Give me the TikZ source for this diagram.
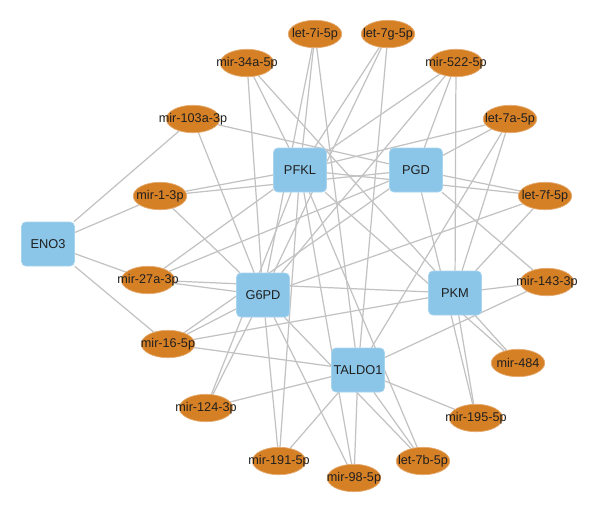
\documentclass[tikz,border=0pt]{standalone}
\usepackage{fontspec}
\setmainfont{Liberation Sans}
\usepackage{tikz}
\usetikzlibrary{shapes.geometric, backgrounds}

\definecolor{genebox}{RGB}{139,198,233}
\definecolor{mirfill}{RGB}{214,128,38}
\definecolor{edgegray}{RGB}{194,194,194}

\newcommand{\lbl}[1]{\makebox[0pt]{#1}}

\begin{document}
\begin{tikzpicture}[x=0.02cm,y=-0.02cm,
    gene/.style={rectangle,rounded corners=2.5pt,fill=genebox,draw=genebox!75!white,minimum width=1.06cm,minimum height=0.88cm,inner sep=0pt,font=\fontsize{7.3}{9}\selectfont,text=black!88},
    mirna/.style={ellipse,fill=mirfill,draw=mirfill!65!white,line width=0.4pt,minimum width=1.07cm,minimum height=0.55cm,inner sep=0pt,font=\fontsize{7.2}{8}\selectfont,text=black!88},
    every edge/.style={draw=edgegray,line width=0.7pt}]
    \useasboundingbox (0,0) rectangle (600,515);

    % genes
    \node[gene] (eno3) at (48,244) {ENO3};
    \node[gene] (pfkl) at (300,170) {PFKL};
    \node[gene] (pgd) at (416,170) {PGD};
    \node[gene] (g6pd) at (263,295) {G6PD};
    \node[gene] (pkm) at (455,293) {PKM};
    \node[gene] (taldo1) at (358,370) {TALDO1};

    % mirnas
    \node[mirna] (let7i) at (315,34) {\lbl{let-7i-5p}};
    \node[mirna] (let7g) at (388,34) {\lbl{let-7g-5p}};
    \node[mirna] (mir34a) at (247,63) {\lbl{mir-34a-5p}};
    \node[mirna] (mir522) at (456,63) {\lbl{mir-522-5p}};
    \node[mirna] (mir103a) at (193,119) {\lbl{mir-103a-3p}};
    \node[mirna] (let7a) at (510,119) {\lbl{let-7a-5p}};
    \node[mirna] (mir1) at (160,196) {\lbl{mir-1-3p}};
    \node[mirna] (let7f) at (545,196) {\lbl{let-7f-5p}};
    \node[mirna] (mir27a) at (148,280) {\lbl{mir-27a-3p}};
    \node[mirna] (mir143) at (547,282) {\lbl{mir-143-3p}};
    \node[mirna] (mir16) at (168,344) {\lbl{mir-16-5p}};
    \node[mirna] (mir484) at (518,363) {\lbl{mir-484}};
    \node[mirna] (mir124) at (206,408) {\lbl{mir-124-3p}};
    \node[mirna] (mir195) at (476,418) {\lbl{mir-195-5p}};
    \node[mirna] (mir191) at (279,461) {\lbl{mir-191-5p}};
    \node[mirna] (let7b) at (423,461) {\lbl{let-7b-5p}};
    \node[mirna] (mir98) at (354,478) {\lbl{mir-98-5p}};

    \begin{scope}[on background layer]
    \path (eno3) edge (mir103a) edge (mir1) edge (mir27a) edge (mir16)
          (mir103a) edge (g6pd) edge (pgd)
          (mir34a) edge (g6pd) edge (pfkl) edge (pkm)
          (let7i) edge (pfkl) edge (g6pd) edge (taldo1)
          (let7g) edge (pfkl) edge (g6pd) edge (taldo1)
          (mir522) edge (pfkl) edge (g6pd) edge (pgd) edge (pkm)
          (let7a) edge (pfkl) edge (pgd) edge (pkm) edge (taldo1)
          (let7f) edge (pgd) edge (pkm) edge (g6pd) edge (pfkl)
          (mir1) edge (pfkl) edge (g6pd) edge (pgd)
          (mir27a) edge (g6pd) edge (pfkl) edge (pgd) edge (pkm)
          (mir143) edge (pkm) edge (pgd) edge (taldo1)
          (mir16) edge (g6pd) edge (pgd) edge (pkm) edge (taldo1)
          (mir484) edge (pkm) edge (pfkl)
          (mir124) edge (g6pd) edge (pfkl) edge (taldo1)
          (mir195) edge (pkm) edge (pgd) edge (taldo1)
          (mir191) edge (g6pd) edge (pfkl) edge (taldo1)
          (let7b) edge (pfkl) edge (taldo1) edge (g6pd)
          (mir98) edge (g6pd) edge (taldo1) edge (pfkl);
    \end{scope}
\end{tikzpicture}
\end{document}
